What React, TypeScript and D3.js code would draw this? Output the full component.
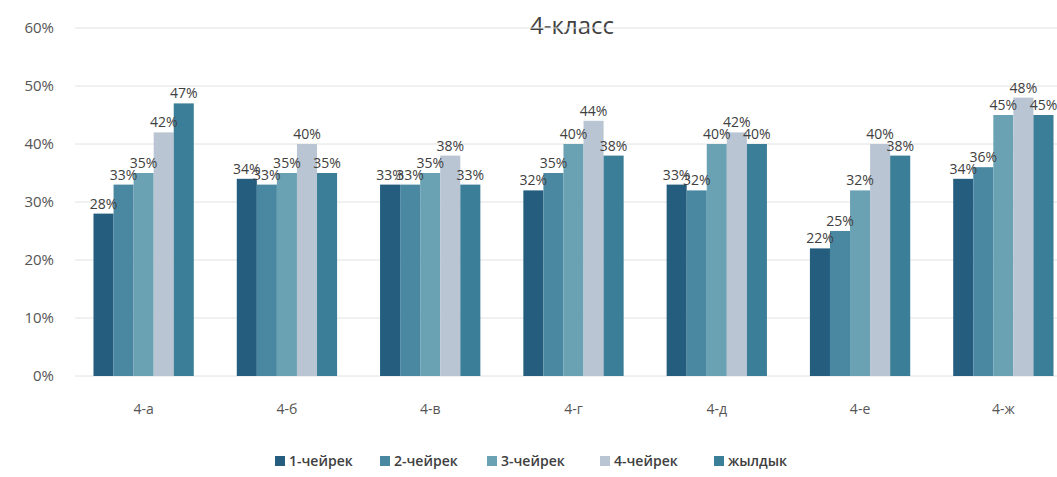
import React from "react";
import * as d3 from "d3";

const categories = ["4-а", "4-б", "4-в", "4-г", "4-д", "4-е", "4-ж"];
const seriesNames = ["1-чейрек", "2-чейрек", "3-чейрек", "4-чейрек", "жылдык"];
const q1 = [28, 34, 33, 32, 33, 22, 34];
const q2 = [33, 33, 33, 35, 32, 25, 36];
const q3 = [35, 35, 35, 40, 40, 32, 45];
const q4 = [42, 40, 38, 44, 42, 40, 48];
const year = [47, 35, 33, 38, 40, 38, 45];
const yTicks = [0, 10, 20, 30, 40, 50, 60];
const colors = ["#245d7e", "#4a88a2", "#6aa2b3", "#b9c5d2", "#3b7e97"];

const W = 1057;
const H = 477;

export default function App() {
  const series = [q1, q2, q3, q4, year];
  const x = d3.scaleBand<string>().domain(categories).range([72, 1075]).paddingInner(0.3).paddingOuter(0.15);
  const x1 = d3.scaleBand<number>().domain(d3.range(series.length)).range([0, x.bandwidth()]);
  const y = d3.scaleLinear().domain([0, 60]).range([376, 28]);
  const font = "'Open Sans', 'Liberation Sans', sans-serif";

  const legendX = [275, 380, 487, 600, 714];

  return (
    <svg width={W} height={H} style={{ position: "absolute", left: 0, top: 0, background: "#fff" }} fontFamily={font}>
      <text x={572} y={34} textAnchor="middle" fontSize={24} fill="#404040">4-класс</text>
      {yTicks.map((t) => (
        <g key={t}>
          <line x1={75} x2={1057} y1={y(t)} y2={y(t)} stroke="#e2e2e2" strokeWidth={1} />
          <text x={54} y={y(t) + 5} textAnchor="end" fontSize={15} fill="#555">{t}%</text>
        </g>
      ))}
      {categories.map((c, ci) => (
        <g key={c} transform={`translate(${x(c)},0)`}>
          {series.map((s, si) => (
            <rect key={si} x={x1(si)} y={y(s[ci])} width={x1.bandwidth()} height={y(0) - y(s[ci])} fill={colors[si]} />
          ))}
          {series.map((s, si) => (
            <text key={"l" + si} x={(x1(si) as number) + x1.bandwidth() / 2} y={y(s[ci]) - 5} textAnchor="middle" fontSize={14} fill="#404040">{s[ci]}%</text>
          ))}
          <text x={x.bandwidth() / 2} y={y(0) + 38} textAnchor="middle" fontSize={14} fill="#555">{c}</text>
        </g>
      ))}
      {seriesNames.map((n, i) => (
        <g key={n} transform={`translate(${legendX[i]},466)`}>
          <rect x={0} y={-10} width={10} height={10} fill={colors[i]} />
          <text x={14} y={0} fontSize={14} fontWeight={600} fill="#404040">{n}</text>
        </g>
      ))}
    </svg>
  );
}
